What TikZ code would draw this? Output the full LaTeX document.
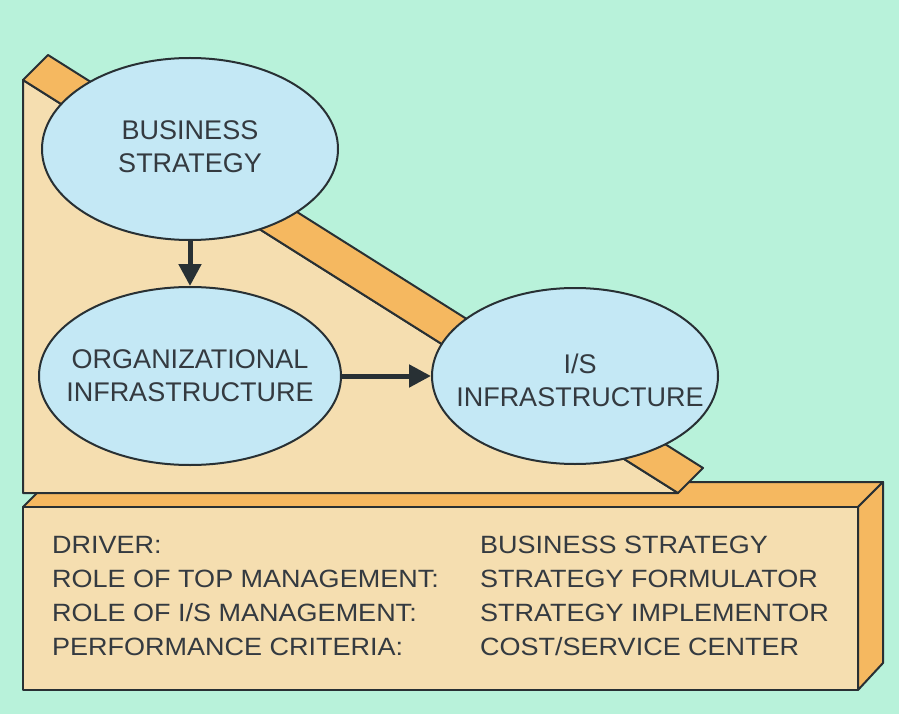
\documentclass[tikz,border=0pt]{standalone}
\usepackage{fontspec}
\setmainfont{Liberation Sans}
\newfontfamily\boxfont[FakeStretch=1.08]{Liberation Sans}
\usetikzlibrary{arrows.meta, shapes.geometric}
\definecolor{mint}{RGB}{184,242,218}
\definecolor{tan}{RGB}{245,222,176}
\definecolor{strip}{RGB}{245,184,96}
\definecolor{bubble}{RGB}{196,232,245}
\definecolor{outline}{RGB}{40,48,52}
\definecolor{ink}{RGB}{52,58,64}

\begin{document}
\begin{tikzpicture}[x=1pt, y=-1pt,
                    my rule/.style={draw=outline, line width=2pt, line join=round},
                    my ellipse/.style={my rule, ellipse, fill=bubble, inner sep=0pt},
                    my label/.style={
                      align=center, inner sep=0pt, text=ink,
                      font=\fontsize{27}{33}\selectfont},
                    my arrow/.style={
                      -{Triangle[length=22pt, width=22pt]}, line width=5pt,
                      draw=outline},
                    my text/.style={
                      anchor=base west, inner sep=0pt, text=ink,
                      font=\boxfont\fontsize{25}{30}\selectfont}]

\fill[mint] (0,0) rectangle (899,714);
\useasboundingbox (0,0) rectangle (899,714);

% the box underneath
\coordinate (box-nw) at (23,507);
\coordinate (box-ne) at (858,507);
\coordinate (box-se) at (858,690);
\coordinate (box-sw) at (23,690);

\begin{scope}[my rule]
\filldraw[fill=strip] (box-nw) -- (box-ne) -- ++(25,-25) -- ++(-835,0) -- cycle;
\filldraw[fill=strip] (box-ne) -- ++(25,-25) -- ++(0,181) -- (box-se) -- cycle;
\filldraw[fill=tan] (box-nw) rectangle (box-se);

% triangle and its slanted edge
\filldraw[fill=tan] (23,80) -- (23,493) -- (678,493) -- cycle;
\filldraw[fill=strip] (23,80) -- (48,55) -- (703,468) -- (678,493) -- cycle;
\end{scope}

% the three ellipses, text set on top of each
\node[my ellipse, minimum width=296pt, minimum height=182pt]
  (strategy) at (190,149) {};
\node[my ellipse, minimum width=302pt, minimum height=178pt]
  (org) at (190,376) {};
\node[my ellipse, minimum width=286pt, minimum height=176pt]
  (is) at (575,376) {};

\node[my label] (strategy-text) at ([yshift=2pt]strategy) {BUSINESS\\STRATEGY};
\node[my label] (org-text) at (org) {ORGANIZATIONAL\\INFRASTRUCTURE};
\node[my label] (is-text) at ([shift={(5,4)}]is) {I/S\\INFRASTRUCTURE};

\draw[my arrow] (strategy.south) -- (org.north);
\draw[my arrow] (org.east) -- (is.west);

\foreach \key/\value [count=\i from 0] in {
    {DRIVER:}/{BUSINESS STRATEGY},
    {ROLE OF TOP MANAGEMENT:}/{STRATEGY FORMULATOR},
    {ROLE OF I/S MANAGEMENT:}/{STRATEGY IMPLEMENTOR},
    {PERFORMANCE CRITERIA:}/{COST/SERVICE CENTER}}
{
  \node[my text] (key-\i) at (52,553+34*\i) {\key};
  \node[my text] (value-\i) at (480,553+34*\i) {\value};
}
\end{tikzpicture}
\end{document}
